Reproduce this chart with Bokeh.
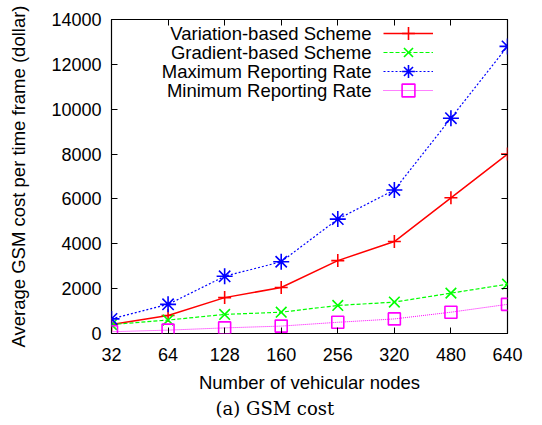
from bokeh.plotting import figure
from bokeh.models import (FixedTicker, LinearAxis, Range1d, Legend, LegendItem,
                          Label, Title)
from bokeh.core.properties import value
from bokeh.embed import file_html
from bokeh.resources import INLINE

# Number of vehicular nodes (evenly spaced categories)
nodes = ["32", "64", "128", "160", "256", "320", "480", "640"]

# Average GSM cost per time frame (dollar)
variation_based = [400, 800, 1600, 2050, 3250, 4100, 6050, 8000]
gradient_based = [400, 600, 850, 950, 1250, 1400, 1800, 2200]
max_reporting = [650, 1300, 2550, 3200, 5100, 6400, 9600, 12800]
min_reporting = [80, 150, 250, 330, 500, 650, 950, 1300]

y_ticks = [0, 2000, 4000, 6000, 8000, 10000, 12000, 14000]

idx = list(range(len(nodes)))

FONT = "Liberation Sans"
FS = "18.5px"
TICK_FS = "18px"

p = figure(frame_width=396, frame_height=314, output_backend="svg",
           toolbar_location=None,
           x_range=Range1d(0, len(nodes) - 1), y_range=Range1d(0, 14000),
           min_border_left=111, min_border_right=35, min_border_top=19,
           min_border_bottom=92)
p.grid.visible = False
p.outline_line_color = "black"
p.outline_line_width = 1.2
p.background_fill_color = "white"
p.border_fill_color = "white"

xt = FixedTicker(ticks=idx)
yt = FixedTicker(ticks=y_ticks)

def style_axis(ax):
    ax.major_tick_in = 6
    ax.major_tick_out = 0
    ax.minor_tick_line_color = None
    ax.axis_line_color = None
    ax.major_tick_line_color = "black"
    ax.major_tick_line_width = 1
    ax.major_label_text_font = FONT
    ax.major_label_text_font_size = TICK_FS
    ax.major_label_text_color = "black"
    ax.axis_label_text_font = FONT
    ax.axis_label_text_font_size = FS
    ax.axis_label_text_font_style = "normal"
    ax.axis_label_text_color = "black"

xa = p.xaxis[0]
xa.ticker = xt
xa.major_label_overrides = {i: n for i, n in enumerate(nodes)}
xa.axis_label = "Number of vehicular nodes"
xa.major_label_standoff = 14
xa.axis_label_standoff = 8
style_axis(xa)

ya = p.yaxis[0]
ya.ticker = yt
ya.axis_label = "Average GSM cost per time frame (dollar)"
ya.major_label_standoff = 10
ya.axis_label_standoff = 19
style_axis(ya)

# mirrored inward ticks on the top and right edges, no labels
top = LinearAxis(ticker=xt, major_label_overrides={i: "" for i in idx})
style_axis(top)
top.major_label_standoff = 0
p.add_layout(top, "above")
right = LinearAxis(ticker=yt, major_label_overrides={t: "" for t in y_ticks})
style_axis(right)
right.major_label_standoff = 0
p.add_layout(right, "right")

series = [
    ("Variation-based Scheme", variation_based, "#ff0000", "solid", "cross", 13, 1.5),
    ("Gradient-based Scheme", gradient_based, "#00ff00", "4 2", "x", 15, 1.2),
    ("Maximum Reporting Rate", max_reporting, "#0000ff", "2 2", "asterisk", 16, 1.2),
    ("Minimum Reporting Rate", min_reporting, "#ff00ff", "1 1", "square", 12, 1.0),
]

# one single-row legend per series: sample line to the right of its name
for k, (name, vals, color, dash, marker, msize, lw) in enumerate(series):
    ln = p.line(idx, vals, line_color=color, line_dash=dash, line_width=lw)
    mk = p.scatter(idx, vals, marker=marker, size=msize, line_color=color,
                   fill_color=None, line_width=1.6)
    row_y = 300 - 19 * k
    legend = Legend(items=[LegendItem(label=value(""), renderers=[ln, mk])],
                    location=(272, row_y - 16), padding=0, spacing=0, margin=0,
                    glyph_width=50, glyph_height=32, label_height=18,
                    label_width=0, label_standoff=0, border_line_color=None,
                    background_fill_alpha=0)
    p.add_layout(legend, "center")
    p.add_layout(Label(x=260, y=row_y, x_units="screen", y_units="screen",
                       text=name, text_align="right", text_baseline="middle",
                       text_font=FONT, text_font_size=FS, text_color="black"))

p.add_layout(Title(text="(a) GSM cost", align="left", offset=104,
                   text_font="DejaVu Serif", text_font_size="18px",
                   text_font_style="normal", text_color="black", standoff=0),
             "below")

open("out.html", "w").write(file_html(p, INLINE))
